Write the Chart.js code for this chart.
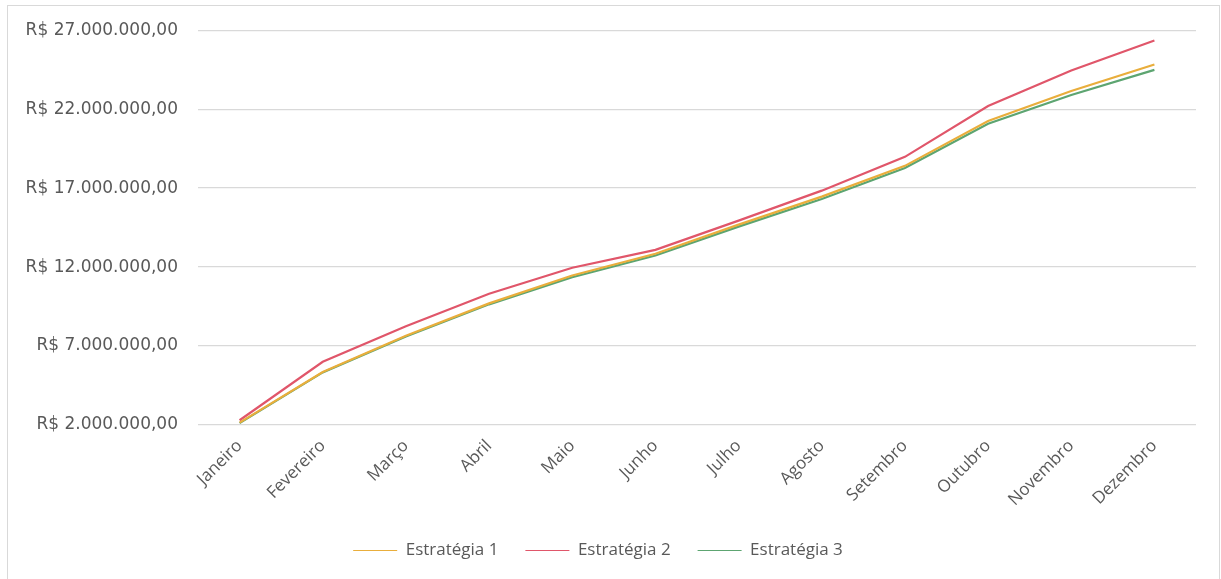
<!DOCTYPE html>
<html>
<head>
<meta charset="utf-8">
<script src="https://cdn.jsdelivr.net/npm/chart.js@4"></script>
<style>
  html, body { margin: 0; padding: 0; background: #fff; }
  #wrap { position: absolute; left: 0; top: 0; width: 1221px; height: 579px; }
  #frame { position: absolute; left: 7px; top: 5px; width: 1213px; height: 600px; border: 1px solid #d9d9d9; box-sizing: border-box; }
  canvas { position: absolute; left: 0; top: 0; }
</style>
</head>
<body>
<div id="wrap">
  <div id="frame"></div>
  <canvas id="c" width="1221" height="579"></canvas>
</div>
<script>
const months = ["Janeiro","Fevereiro","Março","Abril","Maio","Junho","Julho","Agosto","Setembro","Outubro","Novembro","Dezembro"];
const estrategia1 = [2150000, 5350000, 7650000, 9700000, 11470000, 12840000, 14690000, 16460000, 18410000, 21250000, 23150000, 24830000];
const estrategia2 = [2300000, 6000000, 8250000, 10310000, 11960000, 13090000, 14940000, 16840000, 18980000, 22200000, 24450000, 26350000];
const estrategia3 = [2120000, 5330000, 7600000, 9640000, 11360000, 12730000, 14560000, 16310000, 18270000, 21080000, 22900000, 24490000];
const yTicks = [2000000, 7000000, 12000000, 17000000, 22000000, 27000000];

function fmtBRL(v) {
  const s = Math.round(v).toString().replace(/\B(?=(\d{3})+(?!\d))/g, ".");
  return "R$ " + s + ",00";
}

const FONT = "Open Sans, Lato, sans-serif";
const GRAY = "#595959";

new Chart(document.getElementById("c"), {
  type: "line",
  data: {
    labels: months,
    datasets: [
      { label: "Estratégia 1", data: estrategia1, borderColor: "#E9AE3C", backgroundColor: "#E9AE3C" },
      { label: "Estratégia 2", data: estrategia2, borderColor: "#E0566A", backgroundColor: "#E0566A" },
      { label: "Estratégia 3", data: estrategia3, borderColor: "#5DA571", backgroundColor: "#5DA571" }
    ]
  },
  options: {
    responsive: false,
    animation: false,
    devicePixelRatio: 1,
    elements: {
      line: { borderWidth: 2.2, tension: 0 },
      point: { radius: 0, hoverRadius: 0 }
    },
    layout: { padding: { left: 0, top: 20, right: 25, bottom: 10 } },
    plugins: {
      tooltip: { enabled: false },
      legend: {
        position: "bottom",
        labels: {
          usePointStyle: true,
          pointStyle: "line",
          pointStyleWidth: 44,
          boxHeight: 2,
          color: GRAY,
          font: { family: FONT, size: 17 },
          padding: 27
        }
      }
    },
    scales: {
      x: {
        offset: true,
        grid: { display: false },
        border: { display: false },
        ticks: {
          color: GRAY,
          font: { family: FONT, size: 17 },
          maxRotation: 45,
          minRotation: 45,
          padding: 3
        },
        afterFit: (s) => { s.height = 90; }
      },
      y: {
        min: 2000000,
        max: 27000000,
        afterBuildTicks: (s) => { s.ticks = yTicks.map(v => ({ value: v })); },
        grid: { color: "#d9d9d9", lineWidth: 1.3, drawTicks: false },
        border: { display: false },
        ticks: {
          color: GRAY,
          font: { family: "DejaVu Sans", size: 17 },
          padding: 20,
          callback: (v) => fmtBRL(v)
        },
        afterFit: (s) => { s.width = 198; }
      }
    }
  }
});
</script>
</body>
</html>
